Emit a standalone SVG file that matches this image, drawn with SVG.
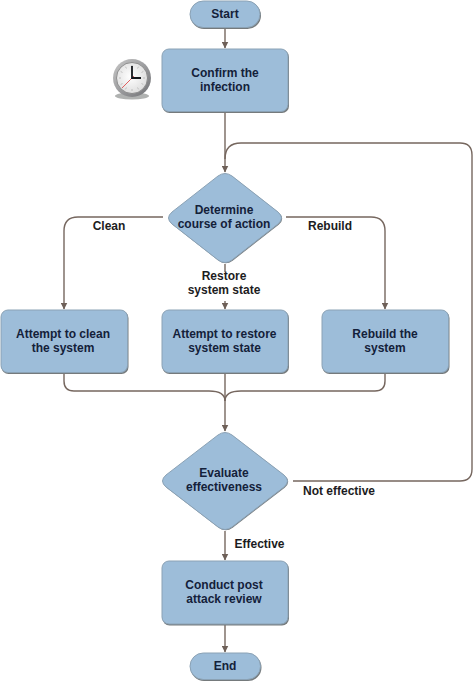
<svg xmlns="http://www.w3.org/2000/svg" width="473" height="681" viewBox="0 0 473 681">
<style>
text{font-family:"Liberation Sans",Arial,sans-serif;font-weight:700;font-size:12px;fill:#14213a;text-anchor:middle}
.lab{fill:#1c1c22}
.n{fill:#9dbdd9;stroke:#8ba2b5;stroke-width:1}
.sh{fill:#757a7c}
.c{fill:none;stroke:#76675f;stroke-width:1.4}
</style>
<defs>
<marker id="a" viewBox="0 0 7 7" refX="6.5" refY="3.5" markerWidth="7" markerHeight="7" markerUnits="userSpaceOnUse" orient="auto"><path d="M0 0L7 3.5L0 7Z" fill="#6e6058"/></marker>
<radialGradient id="face" cx="0.45" cy="0.45" r="0.6"><stop offset="0" stop-color="#ffffff"/><stop offset="1" stop-color="#dcdcdc"/></radialGradient>
<linearGradient id="rim" x1="0" y1="0" x2="1" y2="1"><stop offset="0" stop-color="#c9c9c9"/><stop offset="1" stop-color="#6f7074"/></linearGradient>
</defs>
<rect width="473" height="681" fill="#ffffff"/>
<g id="connectors">
<path class="c" d="M225 28V48" marker-end="url(#a)"/>
<path class="c" d="M225 112V172" marker-end="url(#a)"/>
<path class="c" d="M293 481H460Q472 481 472 469V155Q472 143 460 143H241Q225 143 225 159"/>
<path class="c" d="M163 217H78Q64 217 64 231V309" marker-end="url(#a)"/>
<path class="c" d="M286 217H371Q385 217 385 231V309" marker-end="url(#a)"/>
<path class="c" d="M225 264V272"/>
<path class="c" d="M225 301V309" marker-end="url(#a)"/>
<path class="c" d="M64 373V381Q64 391 74 391H209Q225 391 225 401"/>
<path class="c" d="M385 373V381Q385 391 375 391H241Q225 391 225 401"/>
<path class="c" d="M225 373V431" marker-end="url(#a)"/>
<path class="c" d="M225 531V560" marker-end="url(#a)"/>
<path class="c" d="M225 625V652" marker-end="url(#a)"/>
</g>
<g id="clock">
<ellipse cx="132" cy="96" rx="17" ry="3.500" fill="#8f9190" opacity="0.7"/>
<circle cx="132" cy="78" r="19" fill="url(#rim)"/>
<circle cx="132" cy="78" r="15.500" fill="url(#face)" stroke="#7f7f7f" stroke-width="0.8"/>
<path d="M132 65V67M132 89V91M119 78H121M143 78H145M125.500 66.700L126.500 68.500M138.500 66.700L137.500 68.500M125.500 89.300L126.500 87.500M138.500 89.300L137.500 87.500M120.700 71.500L122.500 72.500M120.700 84.500L122.500 83.500M143.300 71.500L141.500 72.500M143.300 84.500L141.500 83.500" stroke="#b5b5b5" stroke-width="0.8" fill="none"/>
<path d="M134 76L122 88" stroke="#e06060" stroke-width="1" fill="none"/>
<path d="M132 66V78H141" stroke="#15181c" stroke-width="1.800" fill="none"/>
</g>
<g id="start">
<rect class="sh" x="190.500" y="2" width="70.500" height="27" rx="13.500"/>
<rect class="n" x="190" y="1" width="70" height="26.500" rx="13.250"/>
<text x="225" y="18">Start</text>
</g>
<g id="confirm">
<rect class="sh" x="162.500" y="50" width="126.500" height="63" rx="7"/>
<rect class="n" x="162" y="49" width="126" height="62.500" rx="7"/>
<text x="225" y="77">Confirm the</text><text x="225" y="91">infection</text>
</g>
<g id="determine">
<path class="sh" d="M218 176Q225 171 232 176L278 212Q285 218 278 224L232 260Q225 265 218 260L172 224Q165 218 172 212Z" transform="translate(0.7 0.7)"/>
<path class="n" d="M218 176Q225 171 232 176L278 212Q285 218 278 224L232 260Q225 265 218 260L172 224Q165 218 172 212Z"/>
<text x="224" y="214">Determine</text><text x="224" y="228">course of action</text>
</g>
<g id="clean">
<rect class="sh" x="1.500" y="311" width="127" height="63" rx="7"/>
<rect class="n" x="1" y="310" width="126.500" height="62.500" rx="7"/>
<text x="63" y="338">Attempt to clean</text><text x="63" y="352">the system</text>
</g>
<g id="restore">
<rect class="sh" x="162.500" y="311" width="126.500" height="63" rx="7"/>
<rect class="n" x="162" y="310" width="126" height="62.500" rx="7"/>
<text x="224.500" y="338">Attempt to restore</text><text x="224.500" y="352">system state</text>
</g>
<g id="rebuild">
<rect class="sh" x="322.500" y="311" width="127" height="63" rx="7"/>
<rect class="n" x="322" y="310" width="126.500" height="62.500" rx="7"/>
<text x="385" y="338">Rebuild the</text><text x="385" y="352">system</text>
</g>
<g id="evaluate">
<path class="sh" d="M218 435Q225 430 232 435L284 475Q291 481 284 487L232 527Q225 532 218 527L166 487Q159 481 166 475Z" transform="translate(0.7 0.7)"/>
<path class="n" d="M218 435Q225 430 232 435L284 475Q291 481 284 487L232 527Q225 532 218 527L166 487Q159 481 166 475Z"/>
<text x="224" y="477">Evaluate</text><text x="224" y="491">effectiveness</text>
</g>
<g id="review">
<rect class="sh" x="162.500" y="562" width="126.500" height="63.500" rx="7"/>
<rect class="n" x="162" y="561" width="126" height="63" rx="7"/>
<text x="224" y="589">Conduct post</text><text x="224" y="603">attack review</text>
</g>
<g id="end">
<rect class="sh" x="190.500" y="654" width="71" height="27" rx="13.500"/>
<rect class="n" x="190" y="653" width="70.500" height="26.500" rx="13.250"/>
<text x="225" y="670">End</text>
</g>
<g id="labels">
<text class="lab" x="109" y="230">Clean</text>
<text class="lab" x="330" y="230">Rebuild</text>
<text class="lab" x="224" y="280">Restore</text>
<text class="lab" x="224" y="294">system state</text>
<text class="lab" x="339" y="495">Not effective</text>
<text class="lab" x="259.500" y="548">Effective</text>
</g>
</svg>
